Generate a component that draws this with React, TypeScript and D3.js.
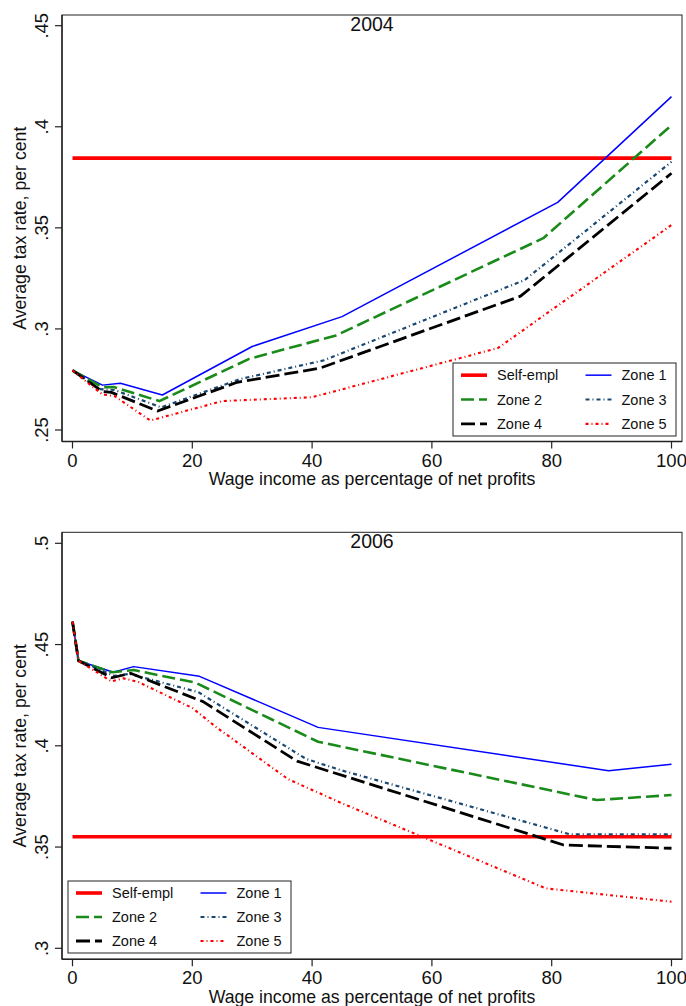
import React from 'react';
import * as d3 from 'd3';

// ---------- DATA ----------
const xTicks = [0, 20, 40, 60, 80, 100];
const yTicks2004 = [0.25, 0.3, 0.35, 0.4, 0.45];
const yTickLabels2004 = ['.25', '.3', '.35', '.4', '.45'];
const yTicks2006 = [0.3, 0.35, 0.4, 0.45, 0.5];
const yTickLabels2006 = ['.3', '.35', '.4', '.45', '.5'];

const seriesNames = ['Self-empl', 'Zone 1', 'Zone 2', 'Zone 3', 'Zone 4', 'Zone 5'];

// 2004
const selfX04 = [0, 100];
const selfY04 = [0.3845, 0.3845];
const z1X04 = [0, 5, 8, 15, 30, 45, 81, 100];
const z1Y04 = [0.2795, 0.2722, 0.2731, 0.2673, 0.2913, 0.3061, 0.3626, 0.4149];
const z2X04 = [0, 5, 7, 14.5, 29.5, 44, 78.6, 100];
const z2Y04 = [0.2795, 0.2712, 0.2712, 0.2643, 0.2852, 0.2968, 0.3449, 0.4008];
const z3X04 = [0, 4.5, 7, 14.8, 28, 42, 75.5, 100];
const z3Y04 = [0.2795, 0.2702, 0.2698, 0.2612, 0.2752, 0.2845, 0.3242, 0.3827];
const z4X04 = [0, 5, 6.5, 14.2, 27.5, 41.3, 74.8, 100];
const z4Y04 = [0.2795, 0.2690, 0.2686, 0.2594, 0.2736, 0.2806, 0.3162, 0.377];
const z5X04 = [0, 3.3, 5, 7, 13, 25, 29.5, 40, 71, 100];
const z5Y04 = [0.2795, 0.2715, 0.2676, 0.2668, 0.2547, 0.2643, 0.2649, 0.2662, 0.2905, 0.3514];

// 2006
const selfX06 = [0, 100];
const selfY06 = [0.3551, 0.3551];
const z1X06 = [0, 1, 6.8, 10.2, 21.2, 41, 89.5, 100];
const z1Y06 = [0.4613, 0.442, 0.4363, 0.4391, 0.4343, 0.4091, 0.3877, 0.3909];
const z2X06 = [0, 1, 6.6, 10.2, 20.5, 41, 87.5, 100];
const z2Y06 = [0.4613, 0.442, 0.4363, 0.4374, 0.4312, 0.402, 0.3732, 0.3757];
const z3X06 = [0, 1, 7, 9.5, 21, 39, 45, 83, 100];
const z3Y06 = [0.4613, 0.442, 0.4345, 0.4355, 0.4265, 0.3935, 0.3878, 0.3563, 0.3563];
const z4X06 = [0, 1, 6.6, 9.7, 21.8, 37.5, 82, 100];
const z4Y06 = [0.4613, 0.442, 0.4336, 0.4358, 0.4218, 0.3924, 0.351, 0.3494];
const z5X06 = [0, 1, 6.5, 8.5, 11, 20, 24, 36, 45, 79, 100];
const z5Y06 = [0.4613, 0.442, 0.4318, 0.4333, 0.4315, 0.4187, 0.4092, 0.3835, 0.3716, 0.3296, 0.323];

// ---------- STYLES ----------
const styles = [
  { color: '#ff0000', width: 3.6, dash: '' },
  { color: '#0000ff', width: 1.5, dash: '' },
  { color: '#1a8a1a', width: 2.6, dash: '13 5' },
  { color: '#1a476f', width: 2.2, dash: '4 3 1 3' },
  { color: '#000000', width: 2.8, dash: '14 5' },
  { color: '#ff0000', width: 2.1, dash: '3 3 1 3' },
];

const FONT = '"Liberation Sans", Arial, sans-serif';

type PanelProps = {
  title: string;
  frameTop: number;
  frameBottom: number;
  yTop: number;
  yBottom: number;
  yDomain: [number, number];
  yTicks: number[];
  yTickLabels: string[];
  xs: number[][];
  ys: number[][];
  legend: { x0: number; x1: number; y0: number; y1: number };
};

function Panel(p: PanelProps) {
  const frameLeft = 62;
  const frameRight = 682;
  const x = d3.scaleLinear().domain([0, 100]).range([72.5, 671.5]);
  const y = d3.scaleLinear().domain(p.yDomain).range([p.yBottom, p.yTop]);
  const midY = (p.frameTop + p.frameBottom) / 2;

  const lines = p.xs.map((xx, i) => {
    const pts: [number, number][] = xx.map((v, j) => [v, p.ys[i][j]]);
    return d3
      .line<[number, number]>()
      .x((d) => x(d[0]))
      .y((d) => y(d[1]))(pts) as string;
  });

  const L = p.legend;
  const rowH = (L.y1 - L.y0) / 3;
  const colX = [L.x0 + 8, L.x0 + 132.5];

  return (
    <g>
      <rect
        x={frameLeft}
        y={p.frameTop}
        width={frameRight - frameLeft}
        height={p.frameBottom - p.frameTop}
        fill="none"
        stroke="#222"
        strokeWidth={1}
      />
      <line x1={frameLeft} x2={frameLeft} y1={p.frameTop} y2={p.frameBottom} stroke="#222" strokeWidth={1.4} />
      <line x1={frameLeft} x2={frameRight} y1={p.frameBottom} y2={p.frameBottom} stroke="#222" strokeWidth={1.4} />
      {/* y ticks */}
      {p.yTicks.map((t, i) => (
        <g key={'yt' + i}>
          <line x1={frameLeft - 7} x2={frameLeft} y1={y(t)} y2={y(t)} stroke="#222" strokeWidth={1.2} />
          <text
            transform={`translate(48,${y(t)}) rotate(-90)`}
            textAnchor="middle"
            fontSize={18.5}
            fontFamily={FONT}
            fill="#111"
          >
            {p.yTickLabels[i]}
          </text>
        </g>
      ))}
      {/* x ticks */}
      {xTicks.map((t) => (
        <g key={'xt' + t}>
          <line x1={x(t)} x2={x(t)} y1={p.frameBottom} y2={p.frameBottom + 7} stroke="#222" strokeWidth={1.2} />
          <text x={x(t)} y={p.frameBottom + 25} textAnchor="middle" fontSize={18.5} fontFamily={FONT} fill="#111">
            {t}
          </text>
        </g>
      ))}
      <text
        x={(frameLeft + frameRight) / 2}
        y={p.frameBottom + 43.5}
        textAnchor="middle"
        fontSize={17.7}
        fontFamily={FONT}
        fill="#111"
      >
        Wage income as percentage of net profits
      </text>
      <text
        transform={`translate(26,${midY}) rotate(-90)`}
        textAnchor="middle"
        fontSize={17.7}
        fontFamily={FONT}
        fill="#111"
      >
        Average tax rate, per cent
      </text>
      <text
        x={(frameLeft + frameRight) / 2}
        y={p.frameTop + 16}
        textAnchor="middle"
        fontSize={19.5}
        fontFamily={FONT}
        fill="#111"
      >
        {p.title}
      </text>
      {/* series */}
      {lines.map((d, i) => (
        <path
          key={'s' + i}
          d={d}
          fill="none"
          stroke={styles[i].color}
          strokeWidth={styles[i].width}
          strokeDasharray={styles[i].dash || undefined}
          strokeLinejoin="round"
        />
      ))}
      {/* legend */}
      <rect x={L.x0} y={L.y0} width={L.x1 - L.x0} height={L.y1 - L.y0} fill="#fff" stroke="#222" strokeWidth={1} />
      {seriesNames.map((name, i) => {
        const col = i % 2;
        const row = Math.floor(i / 2);
        const cy = L.y0 + rowH * (row + 0.5);
        const lx = colX[col];
        return (
          <g key={'lg' + i}>
            <line
              x1={lx}
              x2={lx + 26}
              y1={cy}
              y2={cy}
              stroke={styles[i].color}
              strokeWidth={styles[i].width}
              strokeDasharray={styles[i].dash || undefined}
            />
            <text x={lx + 36} y={cy + 5} fontSize={14.5} fontFamily={FONT} fill="#111">
              {name}
            </text>
          </g>
        );
      })}
    </g>
  );
}

export default function App() {
  return (
    <svg
      width={686}
      height={1006}
      style={{ position: 'absolute', left: 0, top: 0, background: '#fff' }}
    >
      <rect x={0} y={0} width={686} height={1006} fill="#fff" />
      <Panel
        title="2004"
        frameTop={15}
        frameBottom={441.5}
        yTop={25.7}
        yBottom={430}
        yDomain={[0.25, 0.45]}
        yTicks={yTicks2004}
        yTickLabels={yTickLabels2004}
        xs={[selfX04, z1X04, z2X04, z3X04, z4X04, z5X04]}
        ys={[selfY04, z1Y04, z2Y04, z3Y04, z4Y04, z5Y04]}
        legend={{ x0: 453, x1: 676, y0: 363, y1: 436 }}
      />
      <Panel
        title="2006"
        frameTop={532.3}
        frameBottom={959.3}
        yTop={543.3}
        yBottom={948.3}
        yDomain={[0.3, 0.5]}
        yTicks={yTicks2006}
        yTickLabels={yTickLabels2006}
        xs={[selfX06, z1X06, z2X06, z3X06, z4X06, z5X06]}
        ys={[selfY06, z1Y06, z2Y06, z3Y06, z4Y06, z5Y06]}
        legend={{ x0: 68, x1: 291, y0: 881, y1: 953 }}
      />
    </svg>
  );
}
